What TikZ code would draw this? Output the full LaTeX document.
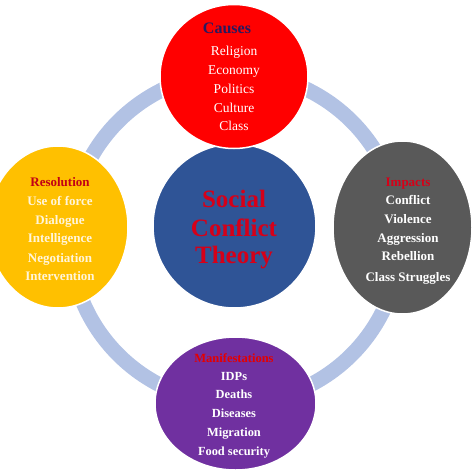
\documentclass[tikz,border=0pt]{standalone}
\usepackage{fontspec}
\setmainfont{Liberation Serif}
\usetikzlibrary{shapes.geometric}
\definecolor{ringblue}{RGB}{178,194,228}
\definecolor{cred}{RGB}{255,0,0}
\definecolor{cblue}{RGB}{47,84,150}
\definecolor{cyellow}{RGB}{255,192,0}
\definecolor{cgray}{RGB}{89,89,89}
\definecolor{cpurple}{RGB}{112,48,160}
\definecolor{headred}{RGB}{214,0,24}
\definecolor{navy}{RGB}{40,26,96}
\definecolor{cream}{RGB}{255,245,218}
\tikzset{
  blob/.style={ellipse, draw=white, line width=1.5pt, inner sep=0pt},
  itemreg/.style={inner sep=0pt, anchor=base, text=white, font=\fontsize{13.5}{16}\selectfont},
  itembold/.style={inner sep=0pt, anchor=base, text=white, font=\bfseries\fontsize{13}{16}\selectfont},
  head/.style={inner sep=0pt, anchor=base, text=headred, font=\bfseries\fontsize{13}{16}\selectfont},
  bigtxt/.style={inner sep=0pt, anchor=base, text=headred, font=\bfseries\fontsize{25}{28}\selectfont}
}
\begin{document}
\begin{tikzpicture}[x=1pt,y=-1pt]
\useasboundingbox (0,0) rectangle (474,474);
% ring
\node[circle, minimum size=330pt, draw=ringblue, line width=15pt, inner sep=0pt] (ring) at (235,238) {};
% circles
\node[blob, fill=cblue, minimum width=163pt, minimum height=164pt] (center) at (234.5,226) {};
\node[blob, fill=cred, minimum width=148pt, minimum height=144pt] (causes) at (234,76.5) {};
\node[blob, fill=cyellow, minimum width=140pt, minimum height=162pt] (resol) at (58,227) {};
\node[blob, fill=cgray, minimum width=139pt, minimum height=173pt] (impacts) at (402.5,227.5) {};
\node[blob, fill=cpurple, minimum width=161pt, minimum height=133pt] (manif) at (235.5,403.5) {};
% center text
\node[bigtxt] (t1) at (234,207) {Social};
\node[bigtxt] (t2) at (234,236) {Conflict};
\node[bigtxt] (t3) at (234,263) {Theory};
% causes
\node[inner sep=0pt, anchor=base, text=navy, font=\bfseries\fontsize{16}{18}\selectfont] (hcauses) at (227,33) {Causes};
\foreach \t/\y [count=\i] in {Religion/55, Economy/74, Politics/93, Culture/112, Class/130}
  \node[itemreg] (cause\i) at (234,\y) {\t};
% resolution
\node[head, text=headred!90!black] (hresol) at (60,186) {Resolution};
\foreach \t/\y [count=\i] in {Use of force/205, Dialogue/224, Intelligence/242, Negotiation/262, Intervention/280}
  \node[itembold, text=cream] (resol\i) at (60,\y) {\t};
% impacts
\node[head] (himp) at (408,186) {Impacts};
\foreach \t/\y [count=\i] in {Conflict/204, Violence/223, Aggression/242, Rebellion/260, Class Struggles/281}
  \node[itembold] (imp\i) at (408,\y) {\t};
% manifestations
\node[head, font=\bfseries\fontsize{12.5}{15}\selectfont, text=red!90!black] (hman) at (234,362) {Manifestations};
\foreach \t/\y [count=\i] in {IDPs/380, Deaths/398, Diseases/417, Migration/436, Food security/455}
  \node[itembold, font=\bfseries\fontsize{12.4}{15}\selectfont] (man\i) at (234,\y) {\t};
\end{tikzpicture}
\end{document}
